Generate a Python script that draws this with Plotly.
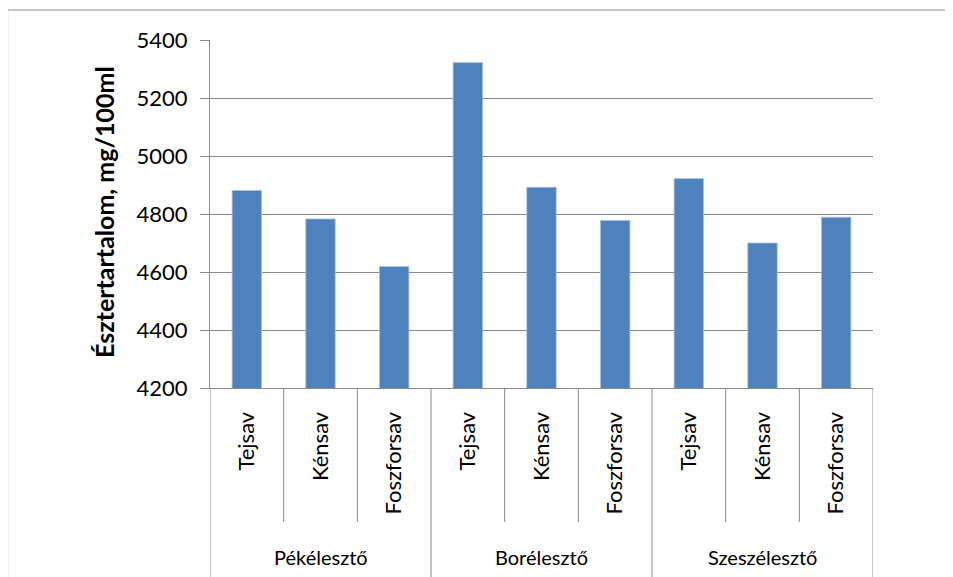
import plotly.graph_objects as go

groups = ["Pékélesztő", "Borélesztő", "Szeszélesztő"]
acids = ["Tejsav", "Kénsav", "Foszforsav"]
values = [4881, 4783, 4619, 5322, 4892, 4778, 4922, 4700, 4789]
y_ticks = [4200, 4400, 4600, 4800, 5000, 5200, 5400]
y_title = "Észtertartalom, mg/100ml"

sub_labels = [a for g in groups for a in acids]
xpos = list(range(len(sub_labels)))

FONT = "Lato"
GRID = "#898989"
OFF = 8  # page body margin

fig = go.Figure()
fig.add_trace(go.Bar(
    x=xpos, y=values,
    marker=dict(color="#4F81BD", line=dict(color="#A9C1DF", width=0.8)),
    showlegend=False,
))

W, H = 953, 577
SL, SR, ST, SB = 210, 873, 40, 388
L, T = SL - OFF, ST - OFF
R = W - (SR - OFF)
B = H - (SB - OFF)
pw, ph = SR - SL, SB - ST

def px_x(p):
    return (p - SL) / pw

def px_y(p):
    return (SB - p) / ph

shapes = []
shapes.append(dict(type="rect", xref="paper", yref="paper",
                   x0=px_x(7.5), x1=px_x(990), y0=px_y(10), y1=px_y(620),
                   line=dict(color="#8C8C8C", width=1.2)))
n = len(sub_labels)
for i in range(n + 1):
    xb = i - 0.5
    is_group = (i % len(acids) == 0)
    shapes.append(dict(type="line", xref="x", yref="paper",
                       x0=xb, x1=xb, y0=0, y1=px_y(590 if is_group else 522),
                       line=dict(color=GRID, width=1)))

annotations = []
for gi, g in enumerate(groups):
    annotations.append(dict(x=gi * len(acids) + 1, y=px_y(557), xref="x", yref="paper",
                            text=g, showarrow=False, xanchor="center", yanchor="middle",
                            font=dict(family=FONT, size=20, color="#000")))
annotations.append(dict(x=px_x(104), y=px_y(212), xref="paper", yref="paper",
                        text="<b>" + y_title + "</b>", textangle=-90, showarrow=False,
                        xanchor="center", yanchor="middle",
                        font=dict(family=FONT, size=25, color="#000")))

fig.update_layout(
    width=W, height=H,
    margin=dict(l=L, r=R, t=T, b=B, autoexpand=False),
    paper_bgcolor="white", plot_bgcolor="white",
    bargap=0.6,
    shapes=shapes, annotations=annotations,
    font=dict(family=FONT, color="#000"),
)
fig.update_xaxes(
    range=[-0.5, n - 0.5], tickmode="array", tickvals=xpos, ticktext=sub_labels,
    tickangle=-90, ticks="", showgrid=False, zeroline=False,
    showline=True, linecolor=GRID, linewidth=1,
    tickfont=dict(family=FONT, size=22, color="#000"), ticklabelstandoff=14,
)
fig.update_yaxes(
    range=[4200, 5400], tickmode="array", tickvals=y_ticks,
    ticks="outside", ticklen=9, tickcolor=GRID, tickwidth=1,
    showgrid=True, gridcolor=GRID, gridwidth=1, zeroline=False,
    showline=True, linecolor=GRID, linewidth=1,
    tickfont=dict(family=FONT, size=22, color="#000"), ticklabelstandoff=8,
)

fig.write_html("out.html")
